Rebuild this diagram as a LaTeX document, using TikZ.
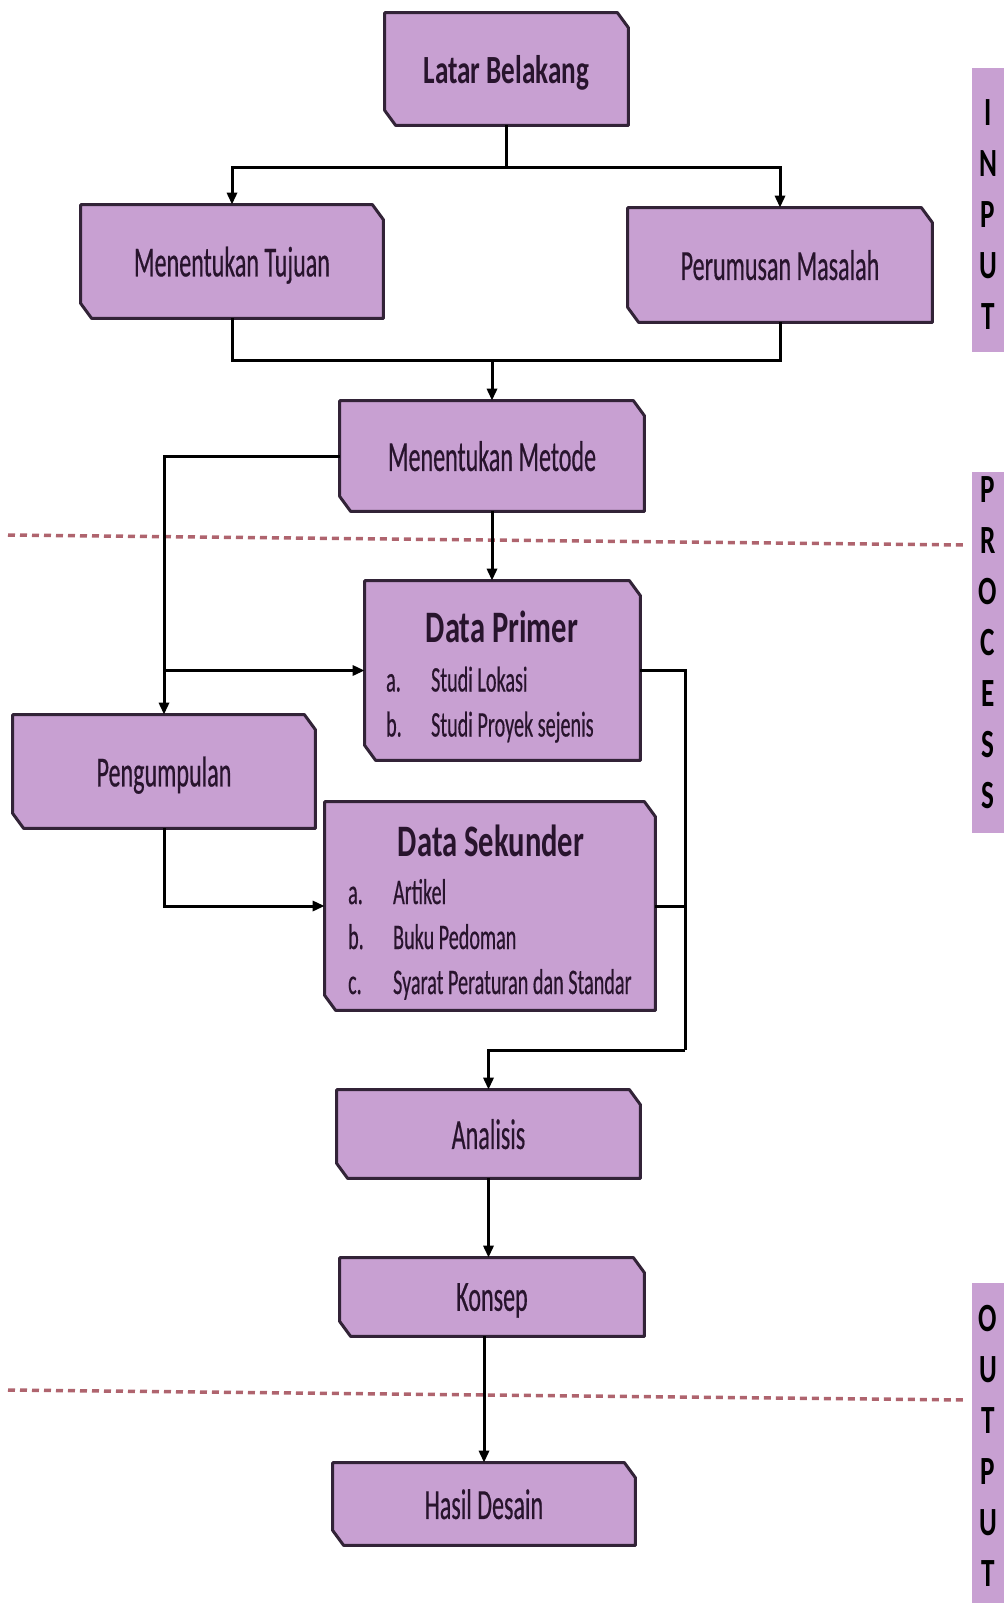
\documentclass[tikz,border=0pt]{standalone}
\usepackage{fontspec}
\newfontfamily\boxfont[FakeStretch=0.56,FakeBold=0.4]{Carlito}
\newfontfamily\titlefont[FakeStretch=0.68]{Carlito}
\usetikzlibrary{arrows.meta,backgrounds}

\definecolor{lavender}{RGB}{200,160,210}
\definecolor{boxedge}{RGB}{50,35,55}
\definecolor{boxtext}{RGB}{40,20,45}
\definecolor{dashred}{RGB}{175,100,110}

\tikzset{every picture/.style={line width=0.75pt}}
\tikzset{
  flowbox/.style={rectangle, inner sep=0pt, text depth=0pt, text=boxtext, font=\boxfont\fontsize{43}{50}\selectfont},
  boxshape/.style={fill=lavender, draw=boxedge, line width=3pt, line join=round},
  boxtitle/.style={inner sep=0.75pt, text=boxtext, font=\titlefont\bfseries\fontsize{45}{52}\selectfont},
  boxlist/.style={inner sep=0.75pt, anchor=west, text=boxtext, font=\boxfont\fontsize{36}{45}\selectfont},
  sidebar/.style={fill=lavender, inner sep=0pt, minimum width=32pt},
  sideletters/.style={inner sep=0pt, align=center, text=black, font=\titlefont\bfseries\fontsize{40}{51}\selectfont},
  link/.style={line width=3pt},
  arrow/.style={link, -{Triangle[length=12pt,width=10pt]}},
  split/.style={dashred, line width=3.5pt, dash pattern=on 7pt off 5pt},
}

\begin{document}
\begin{tikzpicture}[x=1pt,y=1pt,yscale=-1,xscale=1]
  \useasboundingbox (0,0) rectangle (1004,1603);

  % flow boxes
  \node[flowbox, minimum width=243pt, minimum height=112pt] (latar) at (506.5,69) {\titlefont\bfseries\fontsize{40}{46}\selectfont Latar Belakang};
  \node[flowbox, minimum width=302pt, minimum height=113pt] (tujuan) at (232,261.5) {Menentukan Tujuan};
  \node[flowbox, minimum width=304pt, minimum height=114pt] (masalah) at (780,265) {Perumusan Masalah};
  \node[flowbox, minimum width=304pt, minimum height=110pt] (metode) at (492,456) {Menentukan Metode};
  \node[flowbox, minimum width=275pt, minimum height=179pt] (primer) at (502.5,670.5) {};
  \node[flowbox, minimum width=302pt, minimum height=113pt] (kumpul) at (164,771.5) {Pengumpulan};
  \node[flowbox, minimum width=330pt, minimum height=208pt] (sekunder) at (490,906) {};
  \node[flowbox, minimum width=303pt, minimum height=88pt] (analisis) at (488.5,1134) {Analisis};
  \node[flowbox, minimum width=304pt, minimum height=78pt] (konsep) at (492,1297) {Konsep};
  \node[flowbox, minimum width=302pt, minimum height=82pt] (hasil) at (484,1504) {Hasil Desain};

  % contents of the data boxes
  \node[boxtitle] (primertitle) at (502,627) {Data Primer};
  \node[boxlist] (primerlist) at (385,705) {\begin{tabular}{@{}p{45pt}@{}l@{}}a. & Studi Lokasi\\ b. & Studi Proyek sejenis\end{tabular}};
  \node[boxtitle] (sekundertitle) at (491,841) {Data Sekunder};
  \node[boxlist] (sekunderlist) at (347,940) {\begin{tabular}{@{}p{45pt}@{}l@{}}a. & Artikel\\ b. & Buku Pedoman\\ c. & Syarat Peraturan dan Standar\end{tabular}};

  % chamfered outlines behind the text
  \begin{scope}[on background layer]
    \foreach \n in {latar,tujuan,masalah,metode,primer,kumpul,sekunder,analisis,konsep,hasil}
      \filldraw[boxshape] (\n.north west) -- ([xshift=-11pt]\n.north east) -- ([yshift=15pt]\n.north east) -- (\n.south east) -- ([xshift=11pt]\n.south west) -- ([yshift=-15pt]\n.south west) -- cycle;
  \end{scope}

  % side labels
  \node[sidebar, minimum height=284pt] (input) at (988,210) {};
  \node[sideletters] (inputtext) at (988,215) {I\\N\\P\\U\\T};
  \node[sidebar, minimum height=361pt] (process) at (988,652.5) {};
  \node[sideletters] (processtext) at (988,643) {P\\R\\O\\C\\E\\S\\S};
  \node[sidebar, minimum height=320pt] (output) at (988,1443) {};
  \node[sideletters] (outputtext) at (988,1446) {O\\U\\T\\P\\U\\T};

  % stage separators
  \draw[split] (8,535) -- (965,545);
  \draw[split] (8,1390) -- (965,1400);

  % connectors
  \coordinate (fork) at (latar.south |- 0,167);
  \coordinate (merge) at (metode.north |- 0,360);
  \coordinate (branch) at (kumpul.north |- primer.west);
  \coordinate (collect) at (685,1050);

  \draw[link] (latar) -- (fork);
  \draw[arrow] (fork) -| (tujuan);
  \draw[arrow] (fork) -| (masalah);
  \draw[link] (tujuan) |- (merge) -| (masalah);
  \draw[arrow] (merge) -- (metode);
  \draw[arrow] (metode) -| (kumpul);
  \draw[arrow] (branch) -- (primer);
  \draw[arrow] (metode.south) -- (metode.south |- primer.north);
  \draw[arrow] (kumpul) |- (sekunder);
  \draw[link] (primer) -| (collect);
  \draw[link] (sekunder.east) -- (sekunder.east -| collect);
  \draw[arrow] (collect) -| (analisis);
  \draw[arrow] (analisis.south) -- (analisis.south |- konsep.north);
  \draw[arrow] (hasil.north |- konsep.south) -- (hasil);
\end{tikzpicture}
\end{document}
